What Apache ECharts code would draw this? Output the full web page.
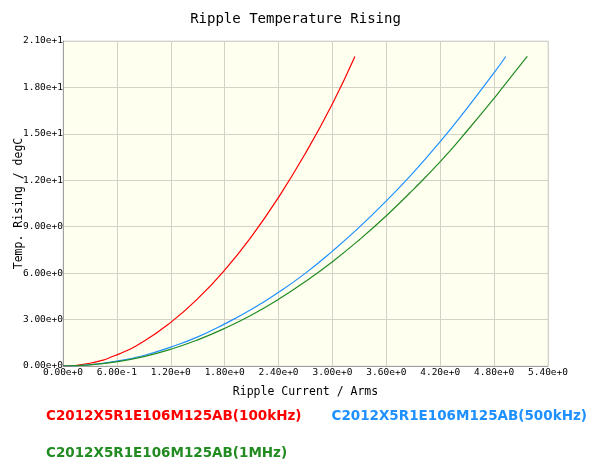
<!DOCTYPE html>
<html>
<head>
<meta charset="utf-8">
<script type="text/javascript" src="https://cdn.jsdelivr.net/npm/echarts@6/dist/echarts.min.js"></script>
<style>
 body { margin: 0; background: #fff; }
 #chart { width: 591px; height: 461px; }
</style>
</head>
<body>
<div id="chart"></div>
<script type="text/javascript">
// series names
var name100k = 'C2012X5R1E106M125AB(100kHz)';
var name500k = 'C2012X5R1E106M125AB(500kHz)';
var name1M = 'C2012X5R1E106M125AB(1MHz)';

// ripple current (Arms) / temperature rise (degC)
var current100k = [0, 0.3, 0.6, 0.9, 1.2, 1.5, 1.8, 2.1, 2.4, 2.7, 3.0, 3.25];
var rise100k    = [0, 0.18, 0.72, 1.6, 2.82, 4.35, 6.2, 8.38, 10.9, 13.75, 16.95, 20.0];

var current500k = [0, 0.3, 0.6, 0.9, 1.2, 1.5, 1.8, 2.1, 2.4, 2.7, 3.0, 3.3, 3.6, 3.9, 4.2, 4.5, 4.8, 4.93];
var rise500k    = [0, 0.08, 0.31, 0.68, 1.22, 1.88, 2.72, 3.66, 4.76, 6.0, 7.42, 8.97, 10.67, 12.5, 14.5, 16.67, 18.95, 20.0];

var current1M = [0, 0.3, 0.6, 0.9, 1.2, 1.5, 1.8, 2.1, 2.4, 2.7, 3.0, 3.3, 3.6, 3.9, 4.2, 4.5, 4.8, 5.1, 5.17];
var rise1M    = [0, 0.07, 0.28, 0.61, 1.08, 1.69, 2.43, 3.3, 4.31, 5.46, 6.74, 8.16, 9.71, 11.4, 13.2, 15.2, 17.3, 19.5, 20.0];

var red = '#ff0000', blue = '#1e90ff', green = '#228b22';

function pairs(xs, ys) {
 var out = [];
 for (var i = 0; i < xs.length; i++) {
  out.push([xs[i], ys[i]]);
 }
 return out;
}

function expLabel(v) {
 return Number(v).toExponential(2);
}

var mono = 'DejaVu Sans Mono';
var legendText = { fontFamily: 'DejaVu Sans', fontSize: 13.5, fontWeight: 'bold' };

var cfg = {
 animation: false,
 title: {
  text: 'Ripple Temperature Rising',
  left: 'center',
  top: 7,
  textStyle: { fontFamily: mono, fontSize: 14, fontWeight: 'normal', color: '#000' }
 },
 grid: {
  left: 63,
  right: 43,
  top: 41,
  bottom: 95,
  containLabel: false,
  outerBoundsMode: 'none',
  show: true,
  backgroundColor: '#fffff0',
  borderColor: '#dcdcdc',
  borderWidth: 1
 },
 legend: [{
  data: [
   { name: name100k, textStyle: { color: red } },
   { name: name500k, textStyle: { color: blue } }
  ],
  left: 36,
  top: 404,
  width: 580,
  icon: 'none',
  itemWidth: 0,
  itemGap: 25,
  textStyle: legendText,
  selectedMode: false
 }, {
  data: [{ name: name1M, textStyle: { color: green } }],
  left: 36,
  top: 441,
  icon: 'none',
  itemWidth: 0,
  textStyle: legendText,
  selectedMode: false
 }],
 xAxis: {
  type: 'value',
  min: 0,
  max: 5.4,
  interval: 0.6,
  name: 'Ripple Current / Arms',
  nameLocation: 'middle',
  nameGap: 20,
  nameMoveOverlap: false,
  nameTextStyle: { fontFamily: mono, fontSize: 11.5, color: '#000' },
  axisLine: { lineStyle: { color: '#a0a0a0' } },
  axisTick: { show: false },
  axisLabel: { formatter: expLabel, fontFamily: mono, fontSize: 9.5, color: '#000', margin: 2 },
  splitLine: { show: true, lineStyle: { color: '#d2d2c8' } }
 },
 yAxis: {
  type: 'value',
  min: 0,
  max: 21,
  interval: 3,
  name: 'Temp. Rising / degC',
  nameLocation: 'middle',
  nameGap: 38,
  nameMoveOverlap: false,
  nameTextStyle: { fontFamily: mono, fontSize: 11.5, color: '#000' },
  axisLine: { show: true, lineStyle: { color: '#a0a0a0' } },
  axisTick: { show: false },
  axisLabel: { formatter: expLabel, fontFamily: mono, fontSize: 9.5, color: '#000', margin: 0 },
  splitLine: { show: true, lineStyle: { color: '#d2d2c8' } }
 },
 series: [{
  name: name100k,
  type: 'line',
  smooth: true,
  showSymbol: false,
  color: red,
  lineStyle: { width: 1.2 },
  data: pairs(current100k, rise100k)
 }, {
  name: name500k,
  type: 'line',
  smooth: true,
  showSymbol: false,
  color: blue,
  lineStyle: { width: 1.2 },
  data: pairs(current500k, rise500k)
 }, {
  name: name1M,
  type: 'line',
  smooth: true,
  showSymbol: false,
  color: green,
  lineStyle: { width: 1.2 },
  data: pairs(current1M, rise1M)
 }]
};

var myChart = echarts.init(document.getElementById('chart'));
myChart.setOption(cfg);
</script>
</body>
</html>
